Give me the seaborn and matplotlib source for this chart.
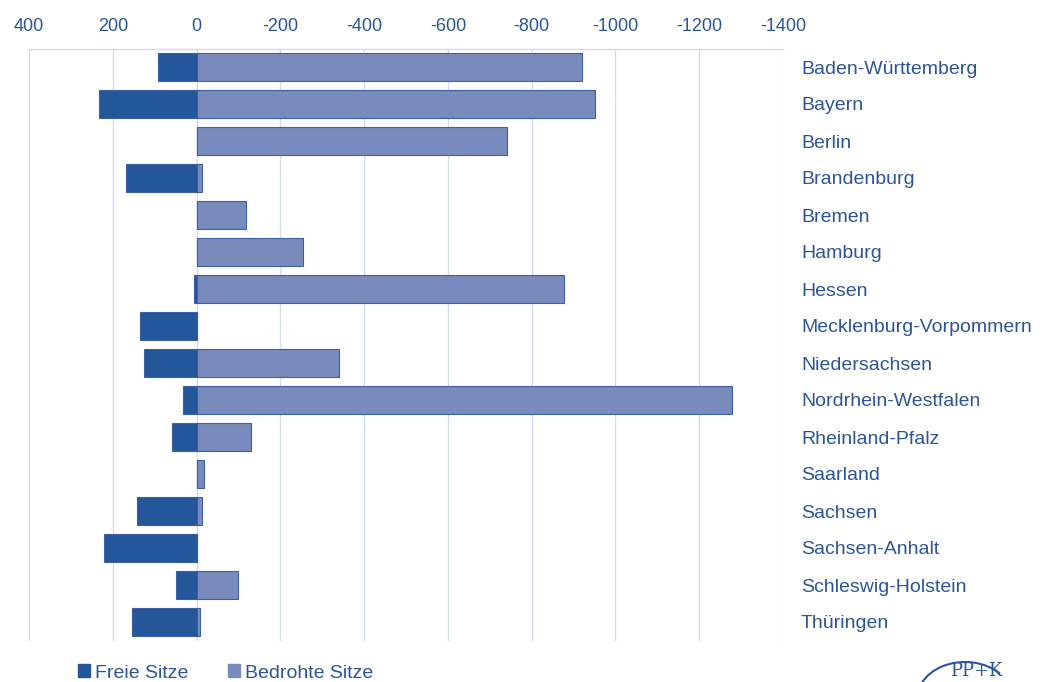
import matplotlib
matplotlib.use("Agg")
import matplotlib.pyplot as plt
from matplotlib.patches import Arc, Patch
import seaborn as sns
import pandas as pd

# ---- data ----
laender = ["Baden-Württemberg", "Bayern", "Berlin", "Brandenburg", "Bremen", "Hamburg",
           "Hessen", "Mecklenburg-Vorpommern", "Niedersachsen", "Nordrhein-Westfalen",
           "Rheinland-Pfalz", "Saarland", "Sachsen", "Sachsen-Anhalt",
           "Schleswig-Holstein", "Thüringen"]
freie_sitze = [91, 234, 0, 169, 0, 0, 5, 134, 125, 33, 58, 0, 141, 222, 49, 154]
bedrohte_sitze = [-919, -950, -740, -12, -117, -253, -878, 0, -339, -1279, -129, -17, -13, 0, -100, -8]
x_ticks = [400, 200, 0, -200, -400, -600, -800, -1000, -1200, -1400]
serien = ["Freie Sitze", "Bedrohte Sitze"]

dark = "#24569A"
light = "#798BBD"
txt = "#2D5596"
grid = "#D3DBEE"

sns.set_theme(style="white")
plt.rcParams["font.family"] = ["Liberation Sans", "DejaVu Sans"]

df = pd.DataFrame({
    "Land": laender * 2,
    "Wert": freie_sitze + bedrohte_sitze,
    "Serie": [serien[0]] * len(laender) + [serien[1]] * len(laender),
})

fig = plt.figure(figsize=(10.42, 6.82), dpi=100)
ax = fig.add_axes([29 / 1042, 1 - 640.5 / 682, (783 - 29) / 1042, (640.5 - 48.5) / 682])

sns.barplot(data=df, y="Land", x="Wert", hue="Serie", hue_order=serien, dodge=False,
            palette={serien[0]: dark, serien[1]: light}, saturation=1, orient="h", width=0.73,
            edgecolor="#3F5FA3", linewidth=0.8, ax=ax, legend=False, zorder=3)

ax.set_xlim(400, -1400)
ax.set_ylim(len(laender) - 0.5, -0.5)
ax.set_xticks(x_ticks)
ax.set_xticklabels([str(t) for t in x_ticks])
ax.xaxis.tick_top()
ax.yaxis.tick_right()
ax.tick_params(axis="x", length=0, pad=10, labelsize=13, colors=txt)
ax.tick_params(axis="y", length=0, pad=13, labelsize=14, colors=txt)
for lab in ax.get_yticklabels():
    lab.set_horizontalalignment("left")
ax.set_xlabel("")
ax.set_ylabel("")
ax.grid(axis="x", color=grid, linewidth=1.0, zorder=0)
ax.set_axisbelow(True)
for s in ["left", "right", "bottom"]:
    ax.spines[s].set_visible(False)
ax.spines["top"].set_color(grid)
ax.spines["top"].set_linewidth(1.0)

handles = [Patch(facecolor=dark, edgecolor=dark), Patch(facecolor=light, edgecolor=light)]
fig.legend(handles, serien, loc="center left", bbox_to_anchor=(70 / 1042, 9 / 682),
           ncol=2, frameon=False, fontsize=14, labelcolor=txt, handlelength=0.65,
           handleheight=0.65, handletextpad=0.25, columnspacing=2.0, borderaxespad=0)

# logo fragment
fig.add_artist(Arc((9.65, -0.16), 0.95, 0.72, theta1=35, theta2=190,
                   transform=fig.dpi_scale_trans, color=txt, linewidth=1.5))
fig.text(950 / 1042, 2 / 682, "PP+K", fontsize=13, color=txt,
         family="DejaVu Serif", va="bottom", ha="left")

fig.savefig("out.png", dpi=100)
